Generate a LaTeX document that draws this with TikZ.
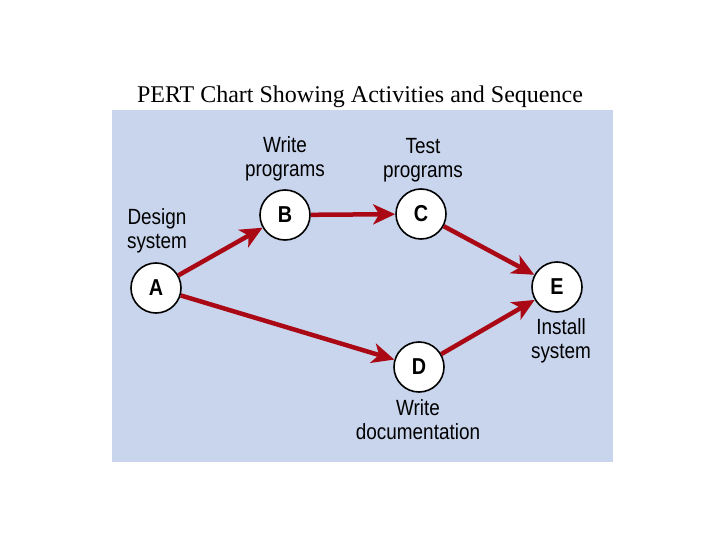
\documentclass[tikz,border=0pt]{standalone}
\usepackage{fontspec}
\setmainfont{Liberation Serif}
\newfontfamily\condsans[FakeStretch=0.86]{Liberation Sans}
\usetikzlibrary{arrows.meta}
\definecolor{panel}{RGB}{200,213,236}
\definecolor{arrowred}{RGB}{170,8,20}
\tikzset{
  event/.style={circle, draw=black, line width=1.6pt, fill=white, minimum size=50pt, inner sep=0pt,
    font=\condsans\fontsize{23}{23}\selectfont\bfseries},
  lbl/.style={align=center, font=\condsans\fontsize{22}{24}\selectfont, text=black, inner sep=0pt},
  act/.style={draw=arrowred, line width=4.5pt, -{Stealth[length=22pt,width=20pt,inset=6pt]}}
}
\begin{document}
\begin{tikzpicture}[x=1pt,y=-1pt]
\useasboundingbox (0,0) rectangle (720,540);
\fill[white] (0,0) rectangle (720,540);
\fill[panel] (112,110) rectangle (613,462);
\node[font=\fontsize{24}{26}\selectfont, inner sep=0pt] (title) at (360,97) {PERT Chart Showing Activities and Sequence};
\node[event] (A) at (156,288) {A};
\node[event] (B) at (285,215) {B};
\node[event] (C) at (421,214) {C};
\node[event] (D) at (419,367) {D};
\node[event] (E) at (557,287) {E};
\node[lbl] (lA) at (157,231) {Design\\system};
\node[lbl] (lB) at (285,159) {Write\\programs};
\node[lbl] (lC) at (423,160) {Test\\programs};
\node[lbl] (lE) at (561,341) {Install\\system};
\node[lbl] (lD) at (418,420) {Write\\documentation};
\draw[act] (A) -- (B);
\draw[act] (B) -- (C);
\draw[act] (C) -- (E);
\draw[act] (A) -- (D);
\draw[act] (D) -- (E);
\end{tikzpicture}
\end{document}
